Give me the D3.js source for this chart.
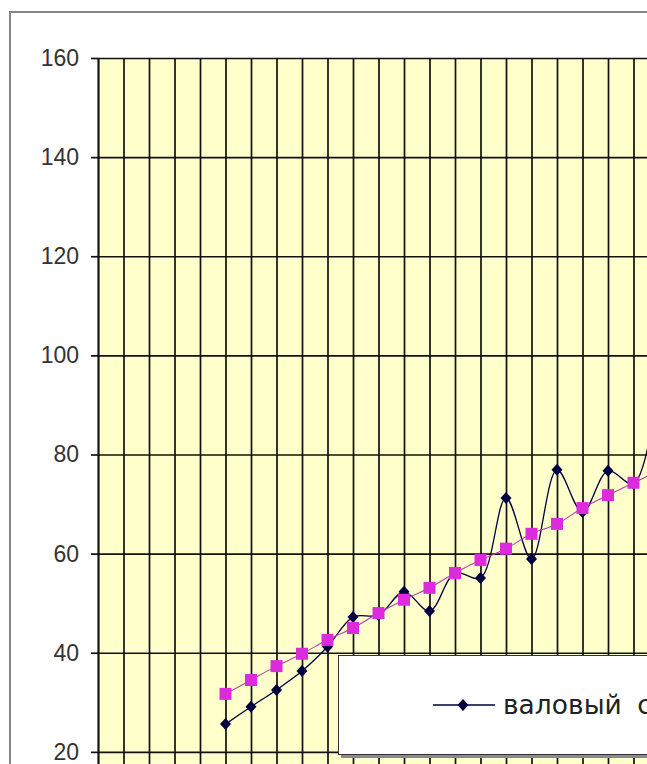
<!DOCTYPE html>
<html>
<head>
<meta charset="utf-8">
<script src="https://cdn.jsdelivr.net/npm/d3@7/dist/d3.min.js"></script>
<style>
html,body{margin:0;padding:0;background:#fff;overflow:hidden;}
#wrap{width:647px;height:764px;overflow:hidden;position:relative;}
svg{display:block;}
</style>
</head>
<body>
<div id="wrap"></div>
<script>
// ---- data ----
const categories = ["1","2","3","4","5","6","7","8","9","10","11","12","13","14","15","16","17","18","19","20","21","22","23","24","25"];
const grossHarvest = [null,null,null,null,null,25.6,29.1,32.5,36.3,41.2,47.2,47.6,52.3,48.4,56.1,55.1,71.2,58.9,76.9,68.4,76.7,74.1,95.0,null,null];
const trendValues  = [null,null,null,null,null,31.7,34.5,37.3,39.8,42.6,45.0,48.0,50.7,53.1,56.1,58.7,61.0,64.0,66.0,69.2,71.8,74.3,76.7,null,null];
const yTicks = [0,20,40,60,80,100,120,140,160];
const legendLabels = ["валовый сбор"];

// ---- layout ----
const W = 760, H = 900;
const pLeft = 98, pRight = 710, pTop = 58, pBottom = 851;

const svg = d3.select("#wrap").append("svg").attr("width", W).attr("height", H);

// chart frame
svg.append("rect").attr("x", 10).attr("y", 12).attr("width", W).attr("height", H)
  .attr("fill", "#fff").attr("stroke", "#858585").attr("stroke-width", 2);

const x = d3.scalePoint().domain(categories).range([pLeft, pRight]).padding(0);
const y = d3.scaleLinear().domain([0, 160]).range([pBottom, pTop]);

// plot area
svg.append("rect").attr("x", pLeft).attr("y", pTop).attr("width", pRight - pLeft).attr("height", pBottom - pTop)
  .attr("fill", "#ffffcc");

// vertical gridlines
svg.append("g").attr("transform", `translate(0,${pBottom})`)
  .call(d3.axisBottom(x).tickSize(-(pBottom - pTop)).tickFormat(""))
  .call(g => g.select(".domain").remove())
  .call(g => g.selectAll("line").attr("stroke", "#111").attr("stroke-width", 1.7));

// horizontal gridlines
svg.append("g").attr("transform", `translate(${pLeft},0)`)
  .call(d3.axisLeft(y).tickValues(yTicks).tickSize(-(pRight - pLeft)).tickFormat(""))
  .call(g => g.select(".domain").remove())
  .call(g => g.selectAll("line").attr("stroke", "#111").attr("stroke-width", 1.7));

// y axis with labels
svg.append("g").attr("transform", `translate(${pLeft},0)`)
  .call(d3.axisLeft(y).tickValues(yTicks).tickSize(7).tickPadding(12).tickSizeOuter(0))
  .call(g => g.select(".domain").attr("stroke", "#111").attr("stroke-width", 1.7))
  .call(g => g.selectAll("line").attr("stroke", "#111").attr("stroke-width", 1.7))
  .call(g => g.selectAll("text").attr("font-family", "Arial, 'Liberation Sans', sans-serif")
      .attr("font-size", 23).attr("fill", "#333"));

// series
const darkColor = "#000040", pinkColor = "#dd2add";
const pts = vals => categories.map((c, i) => ({c, v: vals[i]})).filter(d => d.v != null);

const line = d3.line().x(d => x(d.c)).y(d => y(d.v)).curve(d3.curveCatmullRom.alpha(0.5));

const gh = pts(grossHarvest), tr = pts(trendValues);

svg.append("path").attr("d", line(gh)).attr("fill", "none").attr("stroke", darkColor).attr("stroke-width", 1.3);
const diamond = "M0,-6L5.5,0L0,6L-5.5,0Z";
svg.append("g").selectAll("path").data(gh).join("path")
  .attr("d", diamond).attr("transform", d => `translate(${x(d.c)},${y(d.v)})`)
  .attr("fill", darkColor);

svg.append("path").attr("d", line(tr)).attr("fill", "none").attr("stroke", "#b040b0").attr("stroke-width", 1.1);
svg.append("g").selectAll("rect").data(tr).join("rect")
  .attr("x", d => x(d.c) - 6).attr("y", d => y(d.v) - 6).attr("width", 12).attr("height", 12)
  .attr("fill", pinkColor);

// legend
const lg = svg.append("g");
lg.append("rect").attr("x", 341).attr("y", 658).attr("width", 420).attr("height", 100).attr("fill", "#8a8a8a");
lg.append("rect").attr("x", 338.5).attr("y", 655.5).attr("width", 420).attr("height", 99)
  .attr("fill", "#fff").attr("stroke", "#333").attr("stroke-width", 1);
lg.append("line").attr("x1", 433).attr("x2", 495).attr("y1", 705).attr("y2", 705)
  .attr("stroke", darkColor).attr("stroke-width", 1.6);
lg.append("path").attr("d", diamond).attr("transform", "translate(463,705)").attr("fill", darkColor);
lg.append("text").attr("x", 503).attr("y", 704).attr("dy", "0.36em")
  .attr("font-family", "'DejaVu Sans', sans-serif").attr("font-size", 26.5)
  .attr("word-spacing", 7).attr("fill", "#222")
  .text(legendLabels[0]);
</script>
</body>
</html>
